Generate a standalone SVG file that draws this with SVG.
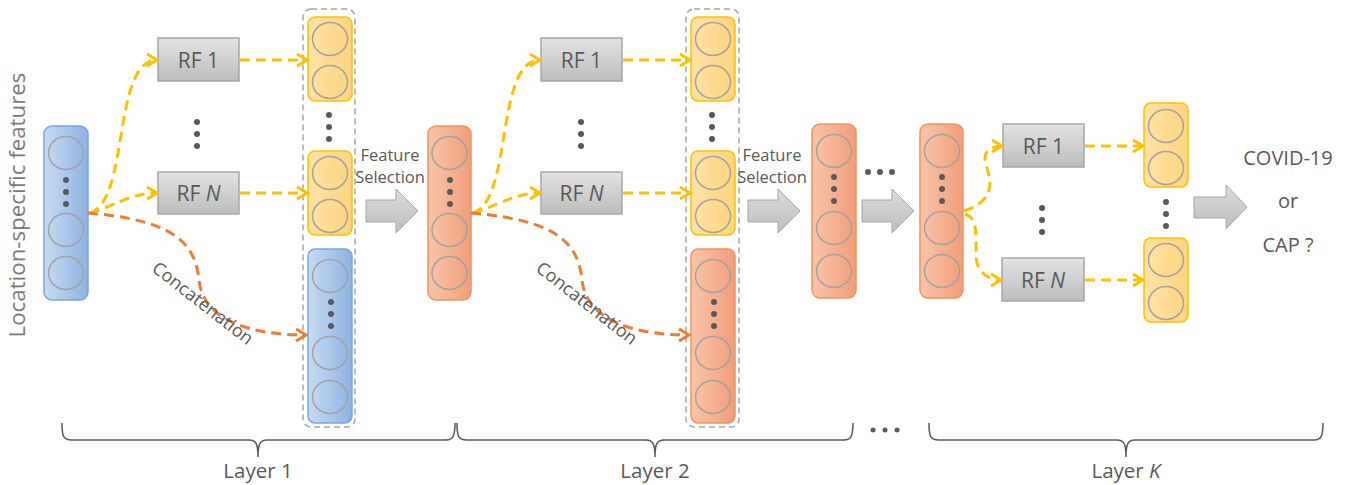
<svg xmlns="http://www.w3.org/2000/svg" width="1350" height="485" viewBox="0 0 1350 485">
<defs>
<linearGradient id="gBlue" x1="0" y1="0" x2="1" y2="0"><stop offset="0" stop-color="#c8dbf1"/><stop offset="1" stop-color="#8db3e2"/></linearGradient>
<linearGradient id="gOrange" x1="0" y1="0" x2="1" y2="0"><stop offset="0" stop-color="#f8c4aa"/><stop offset="1" stop-color="#f29e79"/></linearGradient>
<linearGradient id="gYellow" x1="0" y1="0" x2="1" y2="0"><stop offset="0" stop-color="#ffe3a6"/><stop offset="1" stop-color="#ffd47e"/></linearGradient>
<linearGradient id="gGray" x1="0" y1="0" x2="0" y2="1"><stop offset="0" stop-color="#e4e4e4"/><stop offset="1" stop-color="#bcbcbc"/></linearGradient>
<linearGradient id="gArrow" x1="0" y1="0" x2="0" y2="1"><stop offset="0" stop-color="#dcdcdc"/><stop offset="1" stop-color="#bdbdbd"/></linearGradient>
<marker id="mY" markerUnits="userSpaceOnUse" markerWidth="16" markerHeight="16" viewBox="-12 -8 16 16" refX="0" refY="0" orient="auto"><path d="M-10,-6 L0,0 L-10,6" fill="none" stroke="#ffc000" stroke-width="3"/></marker>
<marker id="mO" markerUnits="userSpaceOnUse" markerWidth="16" markerHeight="16" viewBox="-12 -8 16 16" refX="0" refY="0" orient="auto"><path d="M-10,-6 L0,0 L-10,6" fill="none" stroke="#ed7d31" stroke-width="3"/></marker>
</defs>
<style>
.txt{font-family:"Open Sans","Liberation Sans",sans-serif;fill:#595959}
.blue{fill:url(#gBlue);stroke:#7aa7dd;stroke-width:1.5}
.orange{fill:url(#gOrange);stroke:#f0945f;stroke-width:1.5}
.yellow{fill:url(#gYellow);stroke:#ffc000;stroke-width:1.5}
.rf{fill:url(#gGray);stroke:#a6a6a6;stroke-width:1.5}
.c{fill:none;stroke:#a3a3a3;stroke-width:1.5}
.dot{fill:#595959}
.grp{fill:none;stroke:#a6a6a6;stroke-width:1.5;stroke-dasharray:6 4}
.bigarrow{fill:url(#gArrow);stroke:#a6a6a6;stroke-width:1}
.ly{fill:none;stroke:#ffc000;stroke-width:3;stroke-dasharray:10 6}
.lo{fill:none;stroke:#ed7d31;stroke-width:3;stroke-dasharray:10 6}
.brace{fill:none;stroke:#595959;stroke-width:1.5}
.rft{font-size:21px}
.fst{font-size:16.5px}
.lyr{font-size:20.5px}
</style>
<rect width="1350" height="485" fill="#ffffff"/>

<text class="txt" transform="translate(25,205) rotate(-90)" text-anchor="middle" font-size="22.3" style="fill:#7a7a7a">Location-specific features</text>

<!-- Layer 1 -->
<g id="input">
<rect class="blue" x="44" y="126" width="44" height="174" rx="8"/>
<ellipse class="c" cx="66" cy="153" rx="17.5" ry="16.5"/>
<circle class="dot" cx="66" cy="180" r="3"/><circle class="dot" cx="66" cy="192" r="3"/><circle class="dot" cx="66" cy="204" r="3"/>
<ellipse class="c" cx="66" cy="230" rx="17.5" ry="16.5"/>
<ellipse class="c" cx="66" cy="273" rx="17.5" ry="16.5"/>
</g>
<g id="rf1-l1">
<rect class="rf" x="158" y="38" width="81" height="43"/>
<text class="txt rft" x="198.5" y="67.5" text-anchor="middle">RF 1</text>
</g>
<g id="rf-dots-l1"><circle class="dot" cx="197" cy="122" r="3"/><circle class="dot" cx="197" cy="134" r="3"/><circle class="dot" cx="197" cy="146" r="3"/></g>
<g id="rfN-l1">
<rect class="rf" x="158" y="172" width="81" height="42"/>
<text class="txt rft" x="198.5" y="200.5" text-anchor="middle">RF <tspan font-style="italic">N</tspan></text>
</g>
<g id="concat-l1">
<rect class="grp" x="303" y="9" width="52" height="418" rx="8"/>
<rect class="yellow" x="308" y="17" width="44" height="84" rx="7"/>
<ellipse class="c" cx="330" cy="39" rx="17.5" ry="16.5"/>
<ellipse class="c" cx="330" cy="82" rx="17.5" ry="16.5"/>
<circle class="dot" cx="329" cy="115" r="3"/><circle class="dot" cx="329" cy="127" r="3"/><circle class="dot" cx="329" cy="139" r="3"/>
<rect class="yellow" x="308" y="151" width="44" height="84" rx="7"/>
<ellipse class="c" cx="330" cy="173" rx="17.5" ry="16.5"/>
<ellipse class="c" cx="330" cy="216" rx="17.5" ry="16.5"/>
<rect class="blue" x="308" y="249" width="44" height="174" rx="7"/>
<ellipse class="c" cx="330" cy="276" rx="17.5" ry="16.5"/>
<circle class="dot" cx="331" cy="302" r="3"/><circle class="dot" cx="331" cy="314" r="3"/><circle class="dot" cx="331" cy="326" r="3"/>
<ellipse class="c" cx="330" cy="353" rx="17.5" ry="16.5"/>
<ellipse class="c" cx="330" cy="397" rx="17.5" ry="16.5"/>
</g>
<g id="fs-l1">
<text class="txt fst" x="390" y="161" text-anchor="middle">Feature</text>
<text class="txt fst" x="390" y="183" text-anchor="middle">Selection</text>
<polygon class="bigarrow" points="366,200 396,200 396,189 418,211 396,233 396,222 366,222"/>
</g>
<g id="out-l1">
<rect class="orange" x="428" y="126" width="43" height="174" rx="8"/>
<ellipse class="c" cx="449.5" cy="153" rx="17.5" ry="16.5"/>
<circle class="dot" cx="450" cy="180" r="3"/><circle class="dot" cx="450" cy="192" r="3"/><circle class="dot" cx="450" cy="204" r="3"/>
<ellipse class="c" cx="449.5" cy="230" rx="17.5" ry="16.5"/>
<ellipse class="c" cx="449.5" cy="273" rx="17.5" ry="16.5"/>
</g>

<!-- Layer 2 -->
<g id="rf1-l2">
<rect class="rf" x="541" y="38" width="81" height="43"/>
<text class="txt rft" x="581.5" y="67.5" text-anchor="middle">RF 1</text>
</g>
<g id="rf-dots-l2"><circle class="dot" cx="581" cy="122" r="3"/><circle class="dot" cx="581" cy="134" r="3"/><circle class="dot" cx="581" cy="146" r="3"/></g>
<g id="rfN-l2">
<rect class="rf" x="541" y="172" width="81" height="42"/>
<text class="txt rft" x="581.5" y="200.5" text-anchor="middle">RF <tspan font-style="italic">N</tspan></text>
</g>
<g id="concat-l2">
<rect class="grp" x="686" y="9" width="53" height="418" rx="8"/>
<rect class="yellow" x="691" y="17" width="44" height="84" rx="7"/>
<ellipse class="c" cx="713" cy="39" rx="17.5" ry="16.5"/>
<ellipse class="c" cx="713" cy="82" rx="17.5" ry="16.5"/>
<circle class="dot" cx="712" cy="115" r="3"/><circle class="dot" cx="712" cy="127" r="3"/><circle class="dot" cx="712" cy="139" r="3"/>
<rect class="yellow" x="691" y="151" width="44" height="84" rx="7"/>
<ellipse class="c" cx="713" cy="173" rx="17.5" ry="16.5"/>
<ellipse class="c" cx="713" cy="216" rx="17.5" ry="16.5"/>
<rect class="orange" x="691" y="249" width="44" height="174" rx="7"/>
<ellipse class="c" cx="713" cy="276" rx="17.5" ry="16.5"/>
<circle class="dot" cx="714" cy="302" r="3"/><circle class="dot" cx="714" cy="314" r="3"/><circle class="dot" cx="714" cy="326" r="3"/>
<ellipse class="c" cx="713" cy="353" rx="17.5" ry="16.5"/>
<ellipse class="c" cx="713" cy="397" rx="17.5" ry="16.5"/>
</g>
<g id="fs-l2">
<text class="txt fst" x="772" y="161" text-anchor="middle">Feature</text>
<text class="txt fst" x="772" y="183" text-anchor="middle">Selection</text>
<polygon class="bigarrow" points="748,200 778,200 778,189 800,211 778,233 778,222 748,222"/>
</g>
<g id="out-l2">
<rect class="orange" x="812" y="124" width="44" height="174" rx="8"/>
<ellipse class="c" cx="834" cy="151" rx="17.5" ry="16.5"/>
<circle class="dot" cx="834" cy="177" r="3"/><circle class="dot" cx="834" cy="189" r="3"/><circle class="dot" cx="834" cy="201" r="3"/>
<ellipse class="c" cx="834" cy="228" rx="17.5" ry="16.5"/>
<ellipse class="c" cx="834" cy="271" rx="17.5" ry="16.5"/>
</g>
<g id="mid-dots"><circle class="dot" cx="868" cy="172" r="3"/><circle class="dot" cx="880" cy="172" r="3"/><circle class="dot" cx="892" cy="172" r="3"/></g>
<g id="arrow-mid"><polygon class="bigarrow" points="862,200 892,200 892,189 914,211 892,233 892,222 862,222"/></g>

<!-- Layer K -->
<g id="in-lK">
<rect class="orange" x="920" y="124" width="43" height="174" rx="8"/>
<ellipse class="c" cx="942" cy="151" rx="17.5" ry="16.5"/>
<circle class="dot" cx="942" cy="177" r="3"/><circle class="dot" cx="942" cy="189" r="3"/><circle class="dot" cx="942" cy="201" r="3"/>
<ellipse class="c" cx="942" cy="228" rx="17.5" ry="16.5"/>
<ellipse class="c" cx="942" cy="271" rx="17.5" ry="16.5"/>
</g>
<g id="rf1-lK">
<rect class="rf" x="1003" y="124" width="81" height="43"/>
<text class="txt rft" x="1043.5" y="153.5" text-anchor="middle">RF 1</text>
</g>
<g id="rf-dots-lK"><circle class="dot" cx="1042" cy="208" r="3"/><circle class="dot" cx="1042" cy="220" r="3"/><circle class="dot" cx="1042" cy="232" r="3"/></g>
<g id="rfN-lK">
<rect class="rf" x="1002" y="258" width="82" height="43"/>
<text class="txt rft" x="1043" y="287.5" text-anchor="middle">RF <tspan font-style="italic">N</tspan></text>
</g>
<g id="out1-lK">
<rect class="yellow" x="1144" y="103" width="44" height="84" rx="7"/>
<ellipse class="c" cx="1166" cy="126" rx="17.5" ry="16.5"/>
<ellipse class="c" cx="1166" cy="168" rx="17.5" ry="16.5"/>
</g>
<g id="out-dots-lK"><circle class="dot" cx="1166" cy="202" r="3"/><circle class="dot" cx="1166" cy="214" r="3"/><circle class="dot" cx="1166" cy="226" r="3"/></g>
<g id="outN-lK">
<rect class="yellow" x="1144" y="238" width="44" height="84" rx="7"/>
<ellipse class="c" cx="1166" cy="260" rx="17.5" ry="16.5"/>
<ellipse class="c" cx="1166" cy="303" rx="17.5" ry="16.5"/>
</g>
<g id="final-arrow"><polygon class="bigarrow" points="1194,197 1226,197 1226,185 1247,207 1226,229 1226,218 1194,218"/></g>
<g id="result">
<text class="txt" x="1288" y="165" font-size="20" text-anchor="middle">COVID-19</text>
<text class="txt" x="1288" y="208" font-size="20" text-anchor="middle">or</text>
<text class="txt" x="1288" y="252" font-size="20" text-anchor="middle">CAP ?</text>
</g>

<!-- Connectors -->
<g id="connectors">
<path class="ly" d="M90,213 C130,200 112,60 157,60" marker-end="url(#mY)"/>
<path class="ly" d="M90,213 C115,206 130,193 157,193" marker-end="url(#mY)"/>
<path class="lo" d="M88,213 C170,220 195,240 199,280 C203,320 250,335 306,335" marker-end="url(#mO)"/>
<path class="ly" d="M240,60 L307,60" marker-end="url(#mY)"/>
<path class="ly" d="M240,193 L307,193" marker-end="url(#mY)"/>

<path class="ly" d="M473,213 C513,200 495,60 540,60" marker-end="url(#mY)"/>
<path class="ly" d="M473,213 C498,206 513,193 540,193" marker-end="url(#mY)"/>
<path class="lo" d="M471,213 C553,220 578,240 582,280 C586,320 633,335 689,335" marker-end="url(#mO)"/>
<path class="ly" d="M623,60 L690,60" marker-end="url(#mY)"/>
<path class="ly" d="M623,193 L690,193" marker-end="url(#mY)"/>

<path class="ly" d="M964,211 C997,200 991,180 986,165 C982,152 990,146 1002,146" marker-end="url(#mY)"/>
<path class="ly" d="M965,214 C978,218 976,235 976,255 C976,272 988,280 1001,280" marker-end="url(#mY)"/>
<path class="ly" d="M1085,146 L1143,146" marker-end="url(#mY)"/>
<path class="ly" d="M1085,280 L1143,280" marker-end="url(#mY)"/>

<text class="txt" transform="translate(199,308) rotate(38)" font-size="18" text-anchor="middle">Concatenation</text>
<text class="txt" transform="translate(583,308) rotate(38)" font-size="18" text-anchor="middle">Concatenation</text>
</g>

<!-- Braces -->
<g id="layer-labels">
<path class="brace" d="M62,423 C62,436 63,440 72,440 L249,440 C256,440 258,444 258,457 C258,444 260,440 267,440 L446,440 C453,440 455,436 455,423"/>
<path class="brace" d="M457,423 C457,436 458,440 467,440 L646,440 C653,440 655,444 655,457 C655,444 657,440 664,440 L844,440 C851,440 853,436 853,423"/>
<path class="brace" d="M929,423 C929,436 930,440 939,440 L1117,440 C1124,440 1126,444 1126,457 C1126,444 1128,440 1135,440 L1314,440 C1321,440 1323,436 1323,423"/>
<circle class="dot" cx="873" cy="430" r="2.5"/><circle class="dot" cx="885" cy="430" r="2.5"/><circle class="dot" cx="897" cy="430" r="2.5"/>
<text class="txt lyr" x="258" y="478" text-anchor="middle">Layer 1</text>
<text class="txt lyr" x="655" y="478" text-anchor="middle">Layer 2</text>
<text class="txt lyr" x="1126" y="478" text-anchor="middle">Layer <tspan font-style="italic">K</tspan></text>
</g>
</svg>
